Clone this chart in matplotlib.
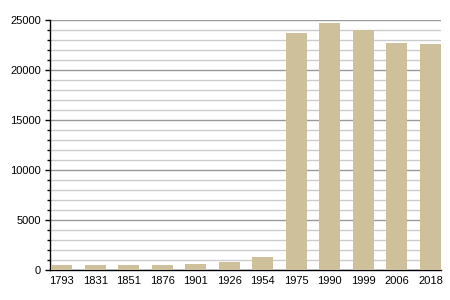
import matplotlib
matplotlib.use("Agg")
import matplotlib.pyplot as plt
from matplotlib.ticker import MultipleLocator

years = ["1793", "1831", "1851", "1876", "1901", "1926", "1954",
         "1975", "1990", "1999", "2006", "2018"]
population = [530, 530, 530, 530, 630, 830, 1330,
              23700, 24700, 24000, 22700, 22600]

plt.rcParams['font.family'] = ['Liberation Sans', 'DejaVu Sans']

fig = plt.figure(figsize=(4.5, 3.0), dpi=100)
ax = fig.add_axes([50/450, 30/300, 391/450, 250/300])

x = list(range(len(years)))
ax.bar(x, population, width=0.63, color='#CEC09A', zorder=3)

ax.set_xlim(-0.345, len(years) - 1 + 0.315)
ax.set_ylim(0, 25000)
ax.yaxis.set_major_locator(MultipleLocator(5000))
ax.yaxis.set_minor_locator(MultipleLocator(1000))
ax.grid(which='major', axis='y', color='#999999', linewidth=1, zorder=0)
ax.grid(which='minor', axis='y', color='#cccccc', linewidth=1, zorder=0)

ax.set_xticks(x)
ax.set_xticklabels(years)
ax.tick_params(axis='x', length=0, pad=4, labelsize=8, colors='black')
ax.tick_params(axis='y', which='major', length=3.6, width=1, pad=3, labelsize=8)
ax.tick_params(axis='y', which='minor', length=2, width=1)

for s in ['top', 'right']:
    ax.spines[s].set_visible(False)
ax.spines['left'].set_linewidth(1)
ax.spines['bottom'].set_linewidth(1)

fig.savefig("out.png", dpi=100)
